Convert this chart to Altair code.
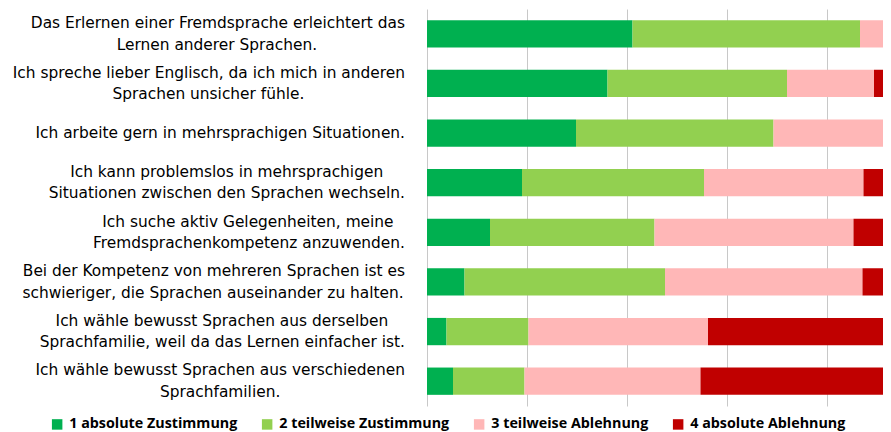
import altair as alt
import pandas as pd

statements = [
    ["Das Erlernen einer Fremdsprache erleichtert das", "Lernen anderer Sprachen."],
    ["Ich spreche lieber Englisch, da ich mich in anderen", "Sprachen unsicher fühle."],
    ["Ich arbeite gern in mehrsprachigen Situationen."],
    ["Ich kann problemslos in mehrsprachigen", "Situationen zwischen den Sprachen wechseln."],
    ["Ich suche aktiv Gelegenheiten, meine", "Fremdsprachenkompetenz anzuwenden."],
    ["Bei der Kompetenz von mehreren Sprachen ist es", "schwieriger, die Sprachen auseinander zu halten."],
    ["Ich wähle bewusst Sprachen aus derselben", "Sprachfamilie, weil da das Lernen einfacher ist."],
    ["Ich wähle bewusst Sprachen aus verschiedenen", "Sprachfamilien."],
]
series = ["1 absolute Zustimmung", "2 teilweise Zustimmung",
          "3 teilweise Ablehnung", "4 absolute Ablehnung"]
colors = ["#00B050", "#92D050", "#FFB7B7", "#C00000"]

v1 = [41.1, 36.1, 29.8, 19.0, 12.6, 7.5, 3.9, 5.2]
v2 = [45.5, 35.9, 39.5, 36.4, 32.9, 40.1, 16.4, 14.3]
v3 = [11.4, 17.4, 22.0, 31.9, 39.8, 39.5, 35.9, 35.2]
v4 = [2.0, 10.6, 8.7, 12.7, 14.7, 12.9, 43.8, 45.3]
grid_values = [0, 20, 40, 60, 80]

FONT = "DejaVu Sans"
FS = 15.4
LH = 21.5
GAP = 22

# approximate DejaVu Sans advance widths (em) for layout of centred label lines
_EM = {" ": 0.318, ",": 0.318, ".": 0.318, "a": 0.613, "b": 0.635, "c": 0.550,
       "d": 0.635, "e": 0.615, "f": 0.352, "g": 0.635, "h": 0.634, "i": 0.278,
       "j": 0.278, "k": 0.579, "l": 0.278, "m": 0.974, "n": 0.634, "o": 0.612,
       "p": 0.635, "q": 0.635, "r": 0.411, "s": 0.521, "t": 0.392, "u": 0.634,
       "v": 0.592, "w": 0.818, "x": 0.592, "y": 0.592, "z": 0.525, "ä": 0.613,
       "ü": 0.634, "B": 0.686, "D": 0.770, "E": 0.632, "F": 0.575, "G": 0.775,
       "I": 0.295, "K": 0.656, "L": 0.557, "S": 0.635}


def text_width(s):
    return sum(_EM.get(ch, 0.62) for ch in s) * FS


cats = ["\n".join(s) for s in statements]

rows = []
for i, cat in enumerate(cats):
    for j, (name, vals) in enumerate(zip(series, [v1, v2, v3, v4])):
        rows.append({"cat": cat, "series": name, "order": j, "value": vals[i]})
df = pd.DataFrame(rows)

line_rows = []
for cat, s in zip(cats, statements):
    widths = [text_width(l) for l in s]
    mx = max(widths)
    for j, (l, w) in enumerate(zip(s, widths)):
        line_rows.append({"cat": cat, "line": l, "j": j, "nlines": len(s),
                          "blockw": mx, "is_long": w == mx})
lines_df = pd.DataFrame(line_rows)

y_enc = alt.Y("cat:N", sort=cats,
              scale=alt.Scale(paddingInner=0.45, paddingOuter=0.225),
              axis=alt.Axis(title=None, labels=False, tickBand="extent",
                            domainColor="#8C8C8C", tickColor="#9A9A9A",
                            tickSize=5, grid=False))

bars = alt.Chart(df).mark_bar(clip=True).encode(
    x=alt.X("value:Q", stack="zero",
            scale=alt.Scale(domain=[0, 91.2], nice=False, zero=True),
            axis=alt.Axis(title=None, labels=False, ticks=False, domain=False,
                          grid=True, values=grid_values, gridColor="#C8C8C8",
                          gridWidth=1)),
    y=y_enc,
    color=alt.Color("series:N",
                    scale=alt.Scale(domain=series, range=colors),
                    legend=alt.Legend(title=None, orient="none",
                                      legendX=-377, legendY=408,
                                      direction="horizontal",
                                      symbolType="square", symbolSize=110,
                                      symbolStrokeWidth=0,
                                      labelFont="Open Sans", labelFontWeight="bold",
                                      labelFontSize=14.3, labelColor="#000000",
                                      labelLimit=400,
                                      columnPadding=22, labelOffset=5)),
    order=alt.Order("order:Q"),
)

dy_expr = {"expr": f"(datum.j - (datum.nlines - 1) / 2) * {LH}"}

text_long = alt.Chart(lines_df).transform_filter("datum.is_long").transform_calculate(
    lx=f"-{GAP}"
).mark_text(align="right", baseline="middle", font=FONT, fontSize=FS,
            color="#000000", dy=dy_expr).encode(
    x=alt.X("lx:Q", scale=None, axis=None),
    y=alt.Y("cat:N", sort=cats, axis=None),
    text="line:N",
)

text_short = alt.Chart(lines_df).transform_filter("!datum.is_long").transform_calculate(
    lx=f"-{GAP} - datum.blockw / 2"
).mark_text(align="center", baseline="middle", font=FONT, fontSize=FS,
            color="#000000", dy=dy_expr).encode(
    x=alt.X("lx:Q", scale=None, axis=None),
    y=alt.Y("cat:N", sort=cats, axis=None),
    text="line:N",
)

chart = alt.layer(bars, text_long, text_short).resolve_scale(x="independent").properties(
    width=456, height=397,
    autosize=alt.AutoSizeParams(type="none"),
    padding={"left": 419, "top": 1, "right": 0, "bottom": 26},
).configure_view(stroke=None)

chart.save("out.html", embed_options={"renderer": "svg", "actions": False})
